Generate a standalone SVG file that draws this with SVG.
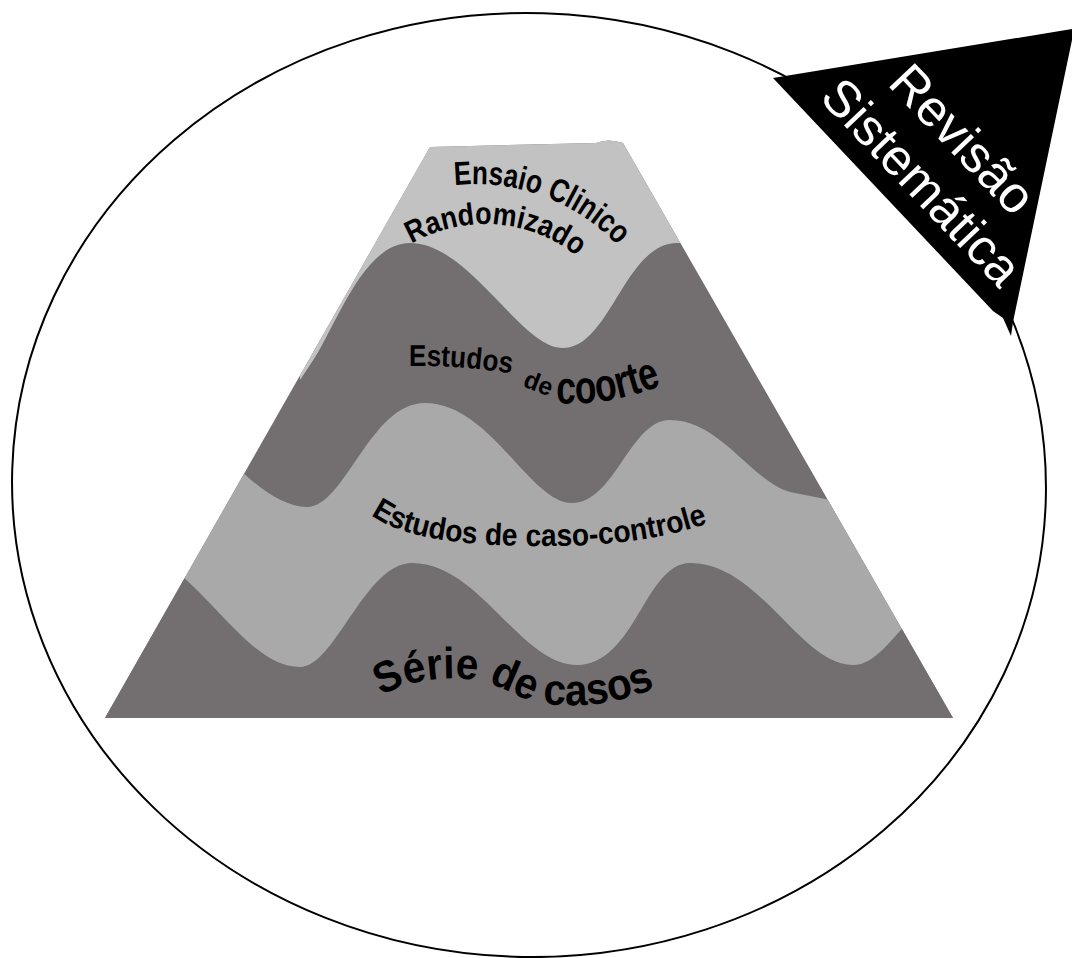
<svg xmlns="http://www.w3.org/2000/svg" width="1072" height="958" viewBox="0 0 1072 958">
<style>
.lbl{font-family:"Liberation Sans",Arial,sans-serif;font-weight:bold;fill:#000}
.rev{font-family:"Liberation Sans",Arial,sans-serif;fill:#fff;font-size:51px}
</style>
<defs>
<clipPath id="trap"><path d="M430,147 L596,143 Q608,138 623,143 L953,718 L105,718 Z"/></clipPath>
<path id="pEnsaio" d="M454.5,185.1 A196,196 0 0 1 620.7,248.9"/>
<path id="pRand" d="M411.5,243.7 A147,147 0 0 1 581.4,260.1"/>
<path id="pEst1" d="M409,366 Q460,365 514,374"/>
<path id="pDe1" d="M522,386 L553,398"/>
<path id="pCoorte" d="M556,403 C590,405 620,401 666,384"/>
<path id="pCaso" d="M371,515 C400,536 450,545 530,546 C600,547 660,541 714,521"/>
<path id="pSerie" d="M381,696 C410,679 450,675 480,681 C505,686 520,701 545,704 C585,708 625,703 664,684"/>
</defs>
<rect width="1072" height="958" fill="#fff"/>
<g id="circle">
<ellipse cx="529" cy="485" rx="517" ry="472" transform="rotate(1.8 529 485)" fill="none" stroke="#000" stroke-width="2"/>
</g>
<g id="pyramid" clip-path="url(#trap)">
<rect x="100" y="130" width="870" height="600" fill="#736f70"/>
<path id="layer-top" d="M380,100 L720,100 L720,243 L677,243 C625,243 610,348 563,348 C520,348 470,243 410,243 C362,243 335,330 310,365 L300,380 L300,100 Z" fill="#c2c2c2"/>
<path id="layer-mid" d="M235,465 C260,490 285,507 307,507 C345,507 370,403 425,403 C490,403 530,503 572,503 C615,503 630,420 670,420 C720,420 750,480 790,492 L860,506 L970,506 L970,740 L100,740 L100,465 Z" fill="#a9a9a9"/>
<path id="layer-bottom" d="M170,566 C220,605 255,667 300,667 C335,667 365,563 412,563 C480,563 520,665 577,665 C635,665 645,563 690,563 C760,563 800,665 853,665 C875,665 890,640 915,615 L970,615 L970,740 L100,740 L100,566 Z" fill="#736f70"/>
</g>
<g id="revisao">
<polygon points="773,78 1072,29 1072,40 1013,322 1011,336 1003,318 993,311" fill="#000"/>
<text class="rev" text-anchor="middle" transform="translate(950,151) rotate(46.5)">Revisão</text>
<text class="rev" text-anchor="middle" transform="translate(909,194) rotate(46.5)">Sistemática</text>
</g>
<g id="ensaio">
<text class="lbl" font-size="33"><textPath href="#pEnsaio" textLength="180" lengthAdjust="spacingAndGlyphs">Ensaio Clinico</textPath></text>
<text class="lbl" font-size="31"><textPath href="#pRand" textLength="176" lengthAdjust="spacingAndGlyphs">Randomizado</textPath></text>
</g>
<g id="coorte">
<text class="lbl" font-size="30"><textPath href="#pEst1" textLength="103" lengthAdjust="spacingAndGlyphs">Estudos</textPath></text>
<text class="lbl" font-size="25"><textPath href="#pDe1" textLength="29" lengthAdjust="spacingAndGlyphs">de</textPath></text>
<text class="lbl" font-size="46"><textPath href="#pCoorte" textLength="108" lengthAdjust="spacingAndGlyphs">coorte</textPath></text>
</g>
<g id="caso-controle">
<text class="lbl" font-size="31"><textPath href="#pCaso" textLength="344" lengthAdjust="spacingAndGlyphs">Estudos de caso-controle</textPath></text>
</g>
<g id="serie">
<text class="lbl" font-size="44"><textPath href="#pSerie" textLength="284" lengthAdjust="spacingAndGlyphs">Série de casos</textPath></text>
</g>
</svg>
